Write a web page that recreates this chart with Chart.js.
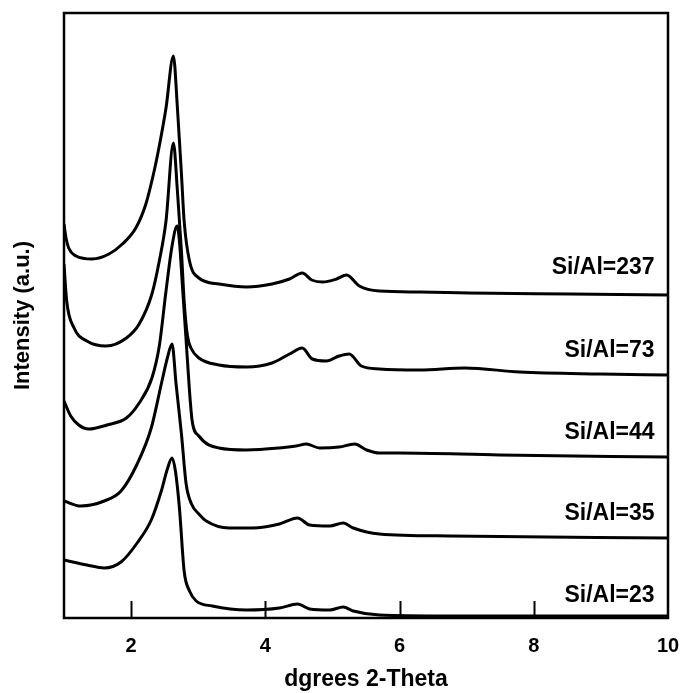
<!DOCTYPE html>
<html>
<head>
<meta charset="utf-8">
<script src="https://cdn.jsdelivr.net/npm/chart.js@4/dist/chart.umd.min.js"></script>
<style>
  html, body { margin: 0; padding: 0; background: #fff; }
</style>
</head>
<body>
<canvas id="xrd" width="685" height="693"></canvas>
<script>
// angoli e intensità (unità arbitrarie)
const seriesNames = ['Si/Al=237', 'Si/Al=73', 'Si/Al=44', 'Si/Al=35', 'Si/Al=23'];
const labelY = [350, 267, 185, 104, 22];

const x237 = [1.00,1.03,1.07,1.18,1.42,1.67,1.87,2.07,2.22,2.34,2.42,2.52,2.63,2.69,2.75,2.79,2.87,3.01,3.31,3.72,4.10,4.36,4.55,4.69,4.85,5.06,5.21,5.40,5.70,6.30,7.04,8.54,10.0];
const y237 = [394,380,370,362,359,364,374,390,414,446,472,510,562,510,444,397,357,340,334,331,334,339,345,338,336,339,343,332,327,326,325,324,323];

const x73 = [1.00,1.04,1.15,1.34,1.63,1.93,2.12,2.31,2.42,2.52,2.63,2.69,2.75,2.79,2.84,2.90,3.01,3.31,3.72,4.10,4.36,4.55,4.70,4.91,5.10,5.25,5.43,5.70,6.30,6.97,7.79,8.99,10.0];
const y73 = [354,317,290,277,272,280,294,324,357,397,475,427,367,317,282,269,260,253,251,255,264,270,259,257,262,264,252,249,248,250,246,244,243];

const x44 = [1.00,1.10,1.22,1.37,1.64,1.93,2.12,2.31,2.42,2.52,2.61,2.685,2.72,2.76,2.81,2.84,2.87,2.91,3.01,3.31,3.72,4.21,4.46,4.61,4.81,5.10,5.33,5.51,5.70,6.00,7.49,10.0];
const y44 = [217,202,193,189,193,200,215,240,272,327,372,392,377,337,287,257,227,197,182,170,168,170,172,174,170,171,174,168,165,165,163,161];

const x35 = [1.00,1.25,1.60,1.85,2.09,2.30,2.45,2.54,2.61,2.67,2.75,2.82,2.90,3.01,3.12,3.46,3.81,4.21,4.48,4.66,4.96,5.16,5.31,5.70,6.75,10.0];
const y35 = [117,112,117,127,154,190,234,260,274,234,184,134,114,104,97,90,90,94,100,93,92,95,90,84,82,80];

const x23 = [1.00,1.34,1.60,1.85,2.09,2.30,2.45,2.54,2.61,2.66,2.72,2.79,2.87,2.97,3.21,3.72,4.21,4.48,4.66,4.96,5.16,5.31,5.70,6.75,10.0];
const y23 = [58,53,50,56,75,98,127,149,160,147,110,47,27,17,12,8,10,14,9,8,11,7,3,2,2];

const xTicks = [2, 4, 6, 8, 10];

const allX = [x237, x73, x44, x35, x23];
const allY = [y237, y73, y44, y35, y23];

function toPoints(xs, ys) {
    return xs.map((x, i) => ({ x: x, y: ys[i] }));
}

const FONT = '"Liberation Sans", Arial, Helvetica, sans-serif';

// cornice, tacche interne ed etichette delle curve
const extras = {
    id: 'extras',
    afterDatasetsDraw(chart) {
        const ctx = chart.ctx;
        const area = chart.chartArea;
        const xs = chart.scales.x;
        const ys = chart.scales.y;
        ctx.save();
        ctx.strokeStyle = '#000';
        ctx.lineWidth = 2;
        xTicks.forEach(v => {
            if (v >= xs.max) return;
            const px = Math.round(xs.getPixelForValue(v)) + 0.5;
            ctx.beginPath();
            ctx.moveTo(px, area.bottom);
            ctx.lineTo(px, area.bottom - 17);
            ctx.stroke();
        });
        ctx.lineWidth = 2.5;
        ctx.strokeRect(area.left, area.top, area.right - area.left, area.bottom - area.top);
        ctx.fillStyle = '#000';
        ctx.font = 'bold 23px ' + FONT;
        ctx.textAlign = 'right';
        ctx.textBaseline = 'middle';
        seriesNames.forEach((name, i) => {
            ctx.fillText(name, xs.getPixelForValue(9.8), ys.getPixelForValue(labelY[i]));
        });
        ctx.restore();
    }
};

new Chart(document.getElementById('xrd'), {
    type: 'scatter',
    data: {
        datasets: seriesNames.map((name, i) => ({
            label: name,
            data: toPoints(allX[i], allY[i]),
            showLine: true,
            borderColor: '#000',
            borderWidth: 3,
            pointRadius: 0,
            cubicInterpolationMode: 'monotone',
            fill: false
        }))
    },
    options: {
        responsive: false,
        animation: false,
        devicePixelRatio: 1,
        layout: { padding: { top: 13, right: 17, bottom: 0, left: 0 } },
        plugins: {
            legend: { display: false },
            tooltip: { enabled: false }
        },
        scales: {
            x: {
                type: 'linear',
                min: 1,
                max: 10,
                afterBuildTicks: s => { s.ticks = xTicks.map(v => ({ value: v })); },
                afterFit: s => { s.height = 75; s.paddingLeft = 0; s.paddingRight = 0; },
                grid: { display: false, drawTicks: false },
                border: { display: false },
                ticks: {
                    color: '#000',
                    padding: 16,
                    maxRotation: 0,
                    font: { family: FONT, size: 20, weight: 'bold' }
                },
                title: {
                    display: true,
                    text: 'dgrees 2-Theta',
                    color: '#000',
                    padding: { top: 0, bottom: 0 },
                    font: { family: FONT, size: 23, weight: 'bold' }
                }
            },
            y: {
                type: 'linear',
                min: 0,
                max: 605,
                afterFit: s => { s.width = 64; },
                grid: { display: false, drawTicks: false },
                border: { display: false },
                ticks: { display: false },
                title: {
                    display: true,
                    text: 'Intensity (a.u.)',
                    color: '#000',
                    padding: { top: 10, bottom: 0 },
                    font: { family: FONT, size: 22, weight: 'bold' }
                }
            }
        }
    },
    plugins: [extras]
});
</script>
</body>
</html>
